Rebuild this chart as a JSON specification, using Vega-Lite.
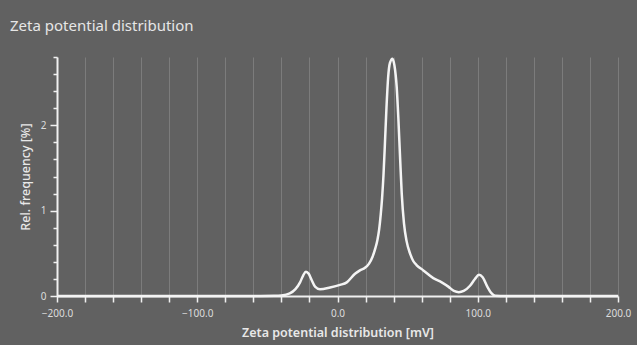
{
  "$schema": "https://vega.github.io/schema/vega-lite/v6.json",
  "autosize": "none",
  "width": 561,
  "height": 239,
  "padding": {"left": 57, "top": 57, "right": 19, "bottom": 49},
  "background": "#616161",
  "title": {
    "text": "Zeta potential distribution",
    "anchor": "start",
    "frame": "group",
    "dx": -47,
    "offset": 8,
    "baseline": "alphabetic",
    "font": "Noto Sans",
    "fontSize": 15,
    "fontWeight": "normal",
    "color": "#e6e6e6"
  },
  "config": {
    "view": {"stroke": null},
    "font": "Noto Sans"
  },
  "data": {
    "values": [
      {"mv": -200, "freq": 0},
      {"mv": -60, "freq": 0},
      {"mv": -45, "freq": 0.002},
      {"mv": -40, "freq": 0.006},
      {"mv": -34, "freq": 0.03},
      {"mv": -30, "freq": 0.08},
      {"mv": -26.7, "freq": 0.16},
      {"mv": -24.5, "freq": 0.24},
      {"mv": -22.5, "freq": 0.285},
      {"mv": -20.5, "freq": 0.26},
      {"mv": -18.5, "freq": 0.19},
      {"mv": -16, "freq": 0.11},
      {"mv": -12.5, "freq": 0.08},
      {"mv": -5.3, "freq": 0.1},
      {"mv": 1.8, "freq": 0.13},
      {"mv": 6.6, "freq": 0.16},
      {"mv": 12.5, "freq": 0.26},
      {"mv": 16, "freq": 0.3},
      {"mv": 19.6, "freq": 0.33},
      {"mv": 22.5, "freq": 0.38},
      {"mv": 25, "freq": 0.46},
      {"mv": 27, "freq": 0.56},
      {"mv": 28.5, "freq": 0.66},
      {"mv": 29.7, "freq": 0.78},
      {"mv": 30.8, "freq": 0.95},
      {"mv": 31.8, "freq": 1.15},
      {"mv": 32.8, "freq": 1.42},
      {"mv": 33.8, "freq": 1.78},
      {"mv": 34.9, "freq": 2.2},
      {"mv": 36.1, "freq": 2.56},
      {"mv": 37.4, "freq": 2.73},
      {"mv": 39.2, "freq": 2.78},
      {"mv": 40.6, "freq": 2.7},
      {"mv": 42.2, "freq": 2.45},
      {"mv": 43.4, "freq": 2.08},
      {"mv": 44.6, "freq": 1.63},
      {"mv": 45.8, "freq": 1.2},
      {"mv": 47.4, "freq": 0.85},
      {"mv": 49.3, "freq": 0.64},
      {"mv": 51.7, "freq": 0.5},
      {"mv": 54, "freq": 0.41},
      {"mv": 56.5, "freq": 0.36},
      {"mv": 61.2, "freq": 0.3},
      {"mv": 68.3, "freq": 0.21},
      {"mv": 74.3, "freq": 0.16},
      {"mv": 79, "freq": 0.11},
      {"mv": 83, "freq": 0.06},
      {"mv": 86.5, "freq": 0.045},
      {"mv": 90, "freq": 0.06},
      {"mv": 94.5, "freq": 0.12},
      {"mv": 98, "freq": 0.2},
      {"mv": 100.9, "freq": 0.25},
      {"mv": 103.5, "freq": 0.22},
      {"mv": 106.8, "freq": 0.11},
      {"mv": 109.9, "freq": 0.03},
      {"mv": 112.5, "freq": 0.002},
      {"mv": 120, "freq": 0},
      {"mv": 200, "freq": 0}
    ]
  },
  "mark": {
    "type": "line",
    "color": "#f4f4f4",
    "strokeWidth": 2.5,
    "interpolate": "monotone"
  },
  "encoding": {
    "x": {
      "field": "mv",
      "type": "quantitative",
      "scale": {"domain": [-200, 200], "nice": false, "zero": false},
      "axis": {
        "title": "Zeta potential distribution [mV]",
        "values": [-200, -180, -160, -140, -120, -100, -80, -60, -40, -20, 0, 20, 40, 60, 80, 100, 120, 140, 160, 180, 200],
        "labelExpr": "datum.value % 100 === 0 ? format(datum.value, '.1f') : ''",
        "grid": true,
        "gridColor": "#7c7c7c",
        "gridWidth": 1,
        "domainColor": "#f0f0f0",
        "domainWidth": 2,
        "tickColor": "#f0f0f0",
        "tickWidth": 1.5,
        "tickSize": 6,
        "labelColor": "#dcdcdc",
        "labelFontSize": 10,
        "labelPadding": 6,
        "labelFlush": false,
        "titleColor": "#e8e8e8",
        "titleFontSize": 12.5,
        "titleFontWeight": 600,
        "titlePadding": 8
      }
    },
    "y": {
      "field": "freq",
      "type": "quantitative",
      "scale": {"domain": [0, 2.8], "nice": false},
      "axis": {
        "title": "Rel. frequency [%]",
        "values": [0, 0.2, 0.4, 0.6, 0.8, 1, 1.2, 1.4, 1.6, 1.8, 2, 2.2, 2.4, 2.6, 2.8],
        "labelExpr": "datum.value === 0 || datum.value === 1 || datum.value === 2 ? format(datum.value, 'd') : ''",
        "grid": false,
        "domainColor": "#f0f0f0",
        "domainWidth": 2,
        "tickColor": "#f0f0f0",
        "tickWidth": 1.5,
        "tickSize": {"condition": {"test": "datum.value === 0 || datum.value === 1 || datum.value === 2", "value": 7}, "value": 4},
        "labelColor": "#dcdcdc",
        "labelFontSize": 10,
        "labelPadding": 4,
        "labelFlush": false,
        "titleColor": "#e8e8e8",
        "titleFontSize": 12.5,
        "titleFontWeight": 500,
        "titlePadding": 8
      }
    }
  }
}
